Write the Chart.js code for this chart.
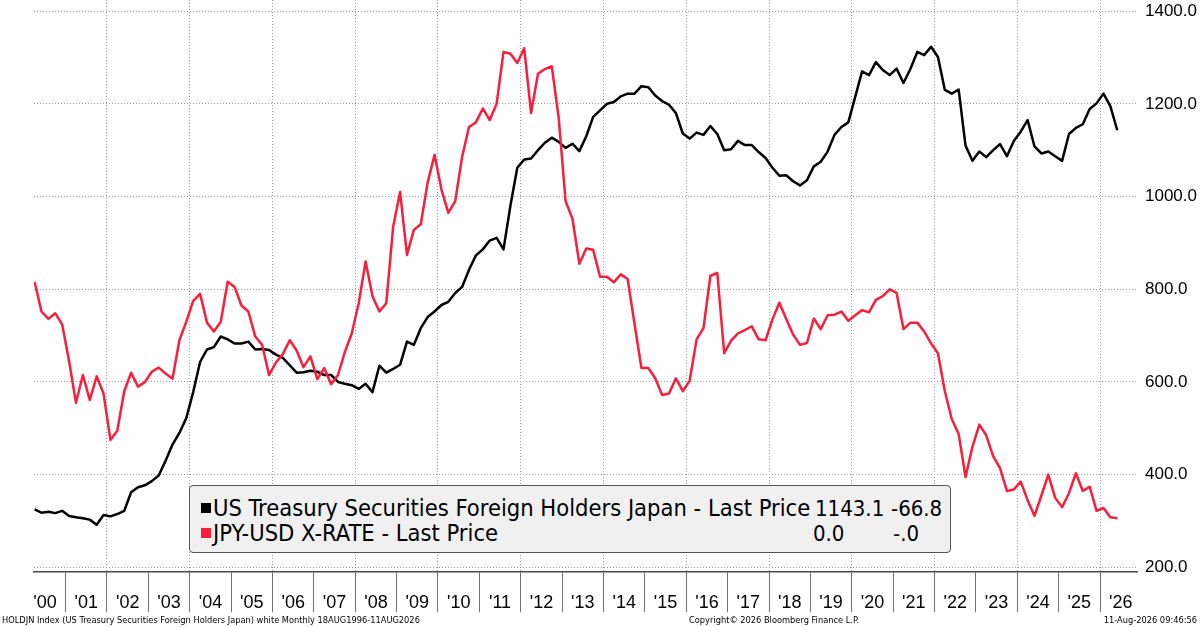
<!DOCTYPE html>
<html>
<head>
<meta charset="utf-8">
<script src="https://cdn.jsdelivr.net/npm/chart.js@4.4.0/dist/chart.umd.min.js"></script>
<style>
html, body { margin: 0; padding: 0; background: #fff; }
#wrap { position: relative; width: 1200px; height: 627px; overflow: hidden; font-family: "Liberation Sans", Arial, sans-serif; color: #000; }
#chart { position: absolute; left: 0; top: 0; }
#legendBox { position: absolute; left: 189px; top: 485px; width: 760px; height: 66px; background: #f0f0f0; border: 1.5px solid #555; border-radius: 4px; }
.lg { position: absolute; font-family: "DejaVu Sans Condensed", "Liberation Sans", sans-serif; font-size: 22px; line-height: 22px; white-space: nowrap; }
.lg.name { font-size: 23.5px; line-height: 23.5px; }
.sq { position: absolute; width: 10px; height: 10px; }
.foot { position: absolute; top: 614px; font-family: "DejaVu Sans Condensed", "Liberation Sans", sans-serif; font-size: 9.2px; line-height: 12px; white-space: nowrap; }
</style>
</head>
<body>
<div id="wrap">
  <canvas id="chart" width="1200" height="627"></canvas>
  <div id="legendBox"></div>
  <div class="sq" style="left:201px;top:503px;background:#000"></div>
  <div class="lg name" style="left:213px;top:497px">US Treasury Securities Foreign Holders Japan - Last Price</div>
  <div class="lg" style="left:815px;top:498px">1143.1</div>
  <div class="lg" style="left:891px;top:498px">-66.8</div>
  <div class="sq" style="left:201px;top:528px;background:#fa1e3c"></div>
  <div class="lg name" style="left:213px;top:522px">JPY-USD X-RATE - Last Price</div>
  <div class="lg" style="left:813px;top:523px">0.0</div>
  <div class="lg" style="left:893px;top:523px">-.0</div>
  <div class="foot" style="left:2px">HOLDJN Index (US Treasury Securities Foreign Holders Japan) white Monthly 18AUG1996-11AUG2026</div>
  <div class="foot" style="left:689px">Copyright© 2026 Bloomberg Finance L.P.</div>
  <div class="foot" style="right:3px">11-Aug-2026 09:46:56</div>
</div>
<script>
// one point every two months, first point Apr 2000, last Jun 2026
const startYear = 2000.25;
const stepYears = 1 / 6;

// US Treasury securities held by Japan, USD bn
const holdingsJapan = [
  325, 318, 320, 317, 322,
  311, 308, 306, 303, 292, 313,
  310, 315, 322, 362, 373, 377,
  386, 398, 430, 465, 490, 522,
  578, 643, 670, 675, 698, 692,
  683, 683, 687, 670, 671, 669,
  659, 652, 636, 620, 621, 624,
  622, 615, 615, 600, 596, 593,
  585, 596, 578, 635, 620, 628,
  637, 687, 680, 716, 740, 752,
  766, 773, 792, 805, 842, 873,
  886, 905, 911, 886, 980, 1062,
  1080, 1082, 1100, 1116, 1127, 1118,
  1105, 1114, 1098, 1130, 1172, 1186,
  1200, 1204, 1216, 1222, 1222, 1238,
  1236, 1218, 1206, 1198, 1180, 1136,
  1125, 1138, 1133, 1152, 1135, 1100,
  1102, 1120, 1111, 1111, 1096, 1083,
  1062, 1045, 1046, 1033, 1024, 1035,
  1065, 1075, 1097, 1133, 1150, 1160,
  1215, 1270, 1262, 1290, 1273, 1262,
  1276, 1245, 1275, 1312, 1305, 1323,
  1301, 1230, 1222, 1231, 1110, 1077,
  1097, 1085, 1100, 1113, 1087, 1120,
  1140, 1165, 1108, 1093, 1097, 1087,
  1077, 1135, 1148, 1156, 1189, 1201,
  1222, 1195, 1143
];

// JPY-USD, USD per yen
const jpyUsd = [
  0.009740, 0.009313, 0.009207, 0.009287, 0.009127,
  0.008600, 0.008000, 0.008400, 0.008040, 0.008380, 0.008133,
  0.007467, 0.007600, 0.008167, 0.008433, 0.008233, 0.008300,
  0.008447, 0.008507, 0.008420, 0.008347, 0.008900, 0.009167,
  0.009467, 0.009567, 0.009153, 0.009027, 0.009167, 0.009740,
  0.009667, 0.009400, 0.009313, 0.008953, 0.008833, 0.008400,
  0.008580, 0.008700, 0.008900, 0.008753, 0.008513, 0.008667,
  0.008340, 0.008500, 0.008267, 0.008400, 0.008733, 0.009000,
  0.009433, 0.010033, 0.009533, 0.009313, 0.009433, 0.010533,
  0.011033, 0.010127, 0.010487, 0.010567, 0.011167, 0.011567,
  0.011067, 0.010733, 0.010900, 0.011540, 0.011967, 0.012033,
  0.012233, 0.012067, 0.012300, 0.013047, 0.013020, 0.012887,
  0.013100, 0.012167, 0.012733, 0.012800, 0.012840, 0.012100,
  0.010900, 0.010647, 0.010000, 0.010220, 0.010200, 0.009813,
  0.009813, 0.009733, 0.009847, 0.009780, 0.009133, 0.008500,
  0.008500, 0.008353, 0.008113, 0.008133, 0.008353, 0.008167,
  0.008320, 0.008913, 0.009073, 0.009827, 0.009867, 0.008713,
  0.008893, 0.009000, 0.009047, 0.009100, 0.008913, 0.008900,
  0.009200, 0.009440, 0.009207, 0.008980, 0.008833, 0.008860,
  0.009213, 0.009060, 0.009260, 0.009267, 0.009313, 0.009180,
  0.009260, 0.009333, 0.009300, 0.009480, 0.009533, 0.009633,
  0.009580, 0.009060, 0.009153, 0.009153, 0.009027, 0.008853,
  0.008713, 0.008167, 0.007767, 0.007553, 0.006933, 0.007367,
  0.007687, 0.007533, 0.007233, 0.007060, 0.006733, 0.006753,
  0.006867, 0.006600, 0.006373, 0.006667, 0.006967, 0.006633,
  0.006500, 0.006700, 0.006987, 0.006733, 0.006793, 0.006447,
  0.006487, 0.006353, 0.006340
];

const yearLabels = ["'00", "'01", "'02", "'03", "'04", "'05", "'06", "'07", "'08", "'09",
  "'10", "'11", "'12", "'13", "'14", "'15", "'16", "'17", "'18", "'19",
  "'20", "'21", "'22", "'23", "'24", "'25", "'26"];
const yTicks = [200, 400, 600, 800, 1000, 1200, 1400];

// hidden fx scale, lined up with the left-hand numbers
const fxAxisMin = 0.005567;
const fxAxisMax = 0.013793;

const red = '#fa1e3c';
const gridGray = '#9a9a9a';
const dates = holdingsJapan.map((_, i) => startYear + i * stepYears);

const xTicks = [];
yearLabels.forEach((_, i) => {
  if (i > 0) xTicks.push(2000 + i);
  xTicks.push(2000.5 + i);
});

new Chart(document.getElementById('chart'), {
  type: 'line',
  data: {
    datasets: [{
      label: 'JPY-USD X-RATE - Last Price',
      data: jpyUsd.map((v, i) => ({ x: dates[i], y: v })),
      yAxisID: 'yFx',
      borderColor: red,
      borderWidth: 2.5,
      borderJoinStyle: 'round',
      pointRadius: 0,
      tension: 0
    }, {
      label: 'US Treasury Securities Foreign Holders Japan - Last Price',
      data: holdingsJapan.map((v, i) => ({ x: dates[i], y: v })),
      yAxisID: 'y',
      borderColor: '#000',
      borderWidth: 2.5,
      borderJoinStyle: 'round',
      pointRadius: 0,
      tension: 0
    }]
  },
  options: {
    responsive: false,
    animation: false,
    layout: { padding: { left: 34, top: 0, right: 0, bottom: 0 } },
    plugins: {
      legend: { display: false },
      tooltip: { enabled: false }
    },
    scales: {
      x: {
        type: 'linear',
        min: 2000.236,
        max: 2026.894,
        afterBuildTicks: scale => { scale.ticks = xTicks.map(v => ({ value: v })); },
        afterFit: scale => { scale.height = 55; },
        grid: {
          color: ctx => (Number.isInteger(ctx.tick.value) && ctx.tick.value % 2 === 0) ? gridGray : 'rgba(0,0,0,0)',
          tickColor: ctx => Number.isInteger(ctx.tick.value) ? '#707070' : 'rgba(0,0,0,0)',
          lineWidth: 1,
          tickLength: 40,
          tickWidth: 1
        },
        border: { display: true, color: '#4a4a4a', width: 1.5, dash: [1, 2] },
        ticks: {
          autoSkip: false,
          maxRotation: 0,
          minRotation: 0,
          padding: -20,
          color: '#000',
          font: { family: 'Liberation Sans', size: 18 },
          callback: v => Number.isInteger(v) ? '' : yearLabels[Math.floor(v) - 2000]
        }
      },
      y: {
        position: 'right',
        min: 190,
        max: 1424,
        afterBuildTicks: scale => { scale.ticks = yTicks.map(v => ({ value: v })); },
        afterFit: scale => {
          scale.width = 63;
          scale.paddingTop = 0;
          scale.paddingBottom = 0;
        },
        grid: { color: gridGray, lineWidth: 1, drawTicks: false },
        border: { display: false, dash: [1, 2] },
        ticks: {
          padding: 8,
          color: '#000',
          font: { family: 'Liberation Sans', size: 17 },
          callback: v => v.toFixed(1)
        }
      },
      yFx: {
        display: false,
        min: fxAxisMin,
        max: fxAxisMax
      }
    }
  }
});
</script>
</body>
</html>
